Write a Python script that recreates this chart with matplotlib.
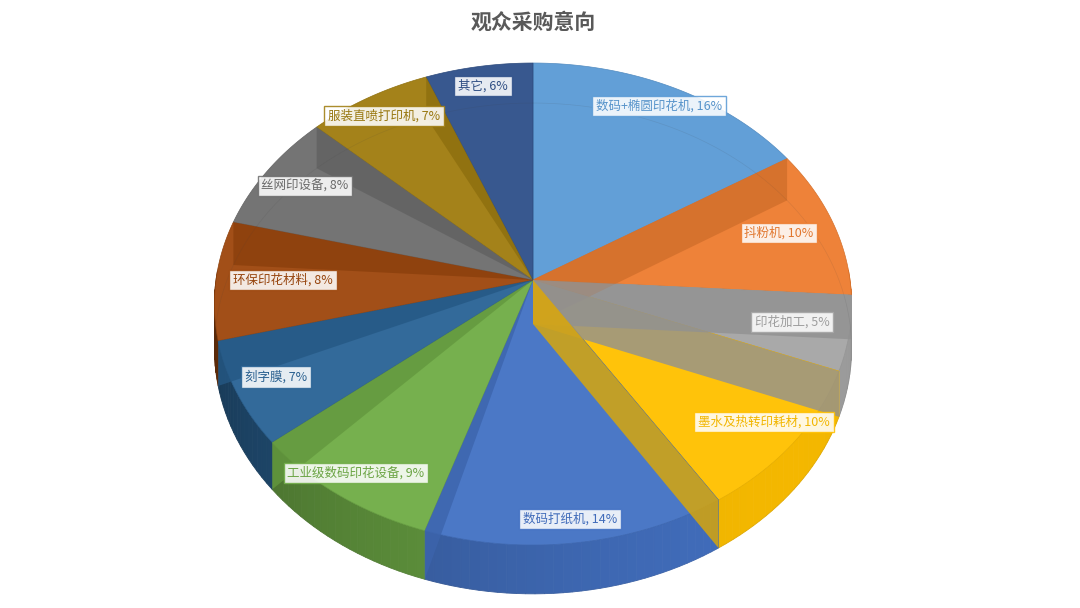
import numpy as np
import matplotlib
matplotlib.use("Agg")
import matplotlib.pyplot as plt
from matplotlib.patches import Polygon
from matplotlib.colors import to_rgb

plt.rcParams["font.family"] = ["Noto Sans CJK SC", "DejaVu Sans"]

# ---------------------------------------------------------------------------
# Data
# ---------------------------------------------------------------------------
categories = ["数码+椭圆印花机", "抖粉机", "印花加工", "墨水及热转印耗材", "数码打纸机",
              "工业级数码印花设备", "刻字膜", "环保印花材料", "丝网印设备", "服装直喷打印机", "其它"]
shares = [16, 10, 5, 10, 14, 9, 7, 8, 8, 7, 6]
colors = ["#5B9BD5", "#ED7D31", "#A5A5A5", "#FFC000", "#4472C4", "#70AD47",
          "#2A6496", "#9E480E", "#6E6E6E", "#A07D10", "#30518A"]
# label anchors (pixels)
label_pos = [(659, 106), (779, 233), (792, 322), (764, 422), (570, 519), (356, 473),
             (276, 377), (283, 280), (305, 186), (384, 116), (483, 86)]

# ---------------------------------------------------------------------------
# Perspective projection of a tilted disc (pixel coordinates)
# ---------------------------------------------------------------------------
CX, CY = 533, 280
A, B, D = 317, 210.7, -0.0996
DEPTH = 44


def proj(theta, r=1.0, z=0.0):
    t = np.radians(theta)
    u = r * np.sin(t)
    v = -r * np.cos(t)
    w = 1 + D * v
    return CX + A * u / w, (CY + B * v) / w + z / w


def shade(c, f):
    rgb = np.array(to_rgb(c))
    if f <= 1:
        return tuple(rgb * f)
    return tuple(rgb + (1 - rgb) * (f - 1))


fig = plt.figure(figsize=(10.8, 6.08), dpi=100)
ax = fig.add_axes([0, 0, 1, 1])
ax.set_xlim(0, 1080)
ax.set_ylim(608, 0)
ax.axis("off")

total = sum(shares)
bounds = np.concatenate([[0], np.cumsum(shares)]) / total * 360

# outer side walls, shaded by direction
for i, c in enumerate(colors):
    a0, a1 = bounds[i], bounds[i + 1]
    steps = np.linspace(a0, a1, max(int((a1 - a0) / 1.5), 2) + 1)
    for s0, s1 in zip(steps[:-1], steps[1:]):
        mid = np.radians((s0 + s1) / 2)
        if np.cos(mid) > 0.05:
            continue
        f = 0.55 + 0.35 * (0.5 + 0.5 * np.sin(mid)) + 0.15 * (-np.cos(mid))
        pts = [proj(s0), proj(s1), proj(s1, z=DEPTH), proj(s0, z=DEPTH)]
        ax.add_patch(Polygon(pts, closed=True, facecolor=shade(c, f),
                             edgecolor=shade(c, f), lw=0.6))

# top faces
for i, c in enumerate(colors):
    a0, a1 = bounds[i], bounds[i + 1]
    arc = np.linspace(a0, a1, 120)
    pts = [proj(0, 0)] + [proj(t) for t in arc]
    ax.add_patch(Polygon(pts, closed=True, facecolor=shade(c, 1.04),
                         edgecolor=shade(c, 0.9), lw=0.5))

# radial walls seen through the translucent top (Excel 3D look)
n = len(shares)
for k in range(n):
    theta = bounds[k + 1]
    if theta >= 359.9:
        continue
    owner = (k + 1) % n if theta < 100 else k
    if theta < 180:
        pts = [proj(0, 0), proj(theta), proj(theta, z=DEPTH), proj(0, 0, z=DEPTH)]
    else:
        pts = [proj(0, 0), proj(theta), proj(theta, z=DEPTH)]
    ax.add_patch(Polygon(pts, closed=True, facecolor=shade(colors[owner], 0.88),
                         edgecolor="none", alpha=0.8))

# faint bottom rim seen through the top
rim = np.linspace(0, 360, 400)
rx, ry = zip(*[proj(t, z=DEPTH) for t in rim])
ax.plot(rx, ry, color="#404040", lw=0.5, alpha=0.12)

# data labels
for name, val, c, (lx, ly) in zip(categories, shares, colors, label_pos):
    ax.text(lx, ly, f"{name}, {val}%", ha="center", va="center", fontsize=9,
            color=shade(c, 0.95),
            bbox=dict(boxstyle="square,pad=0.3", facecolor="white", alpha=0.88,
                      edgecolor=c, lw=1))

ax.text(533, 22, "观众采购意向", ha="center", va="center", fontsize=15,
        fontweight="bold", color="#595959")

fig.savefig("out.png", dpi=100)
